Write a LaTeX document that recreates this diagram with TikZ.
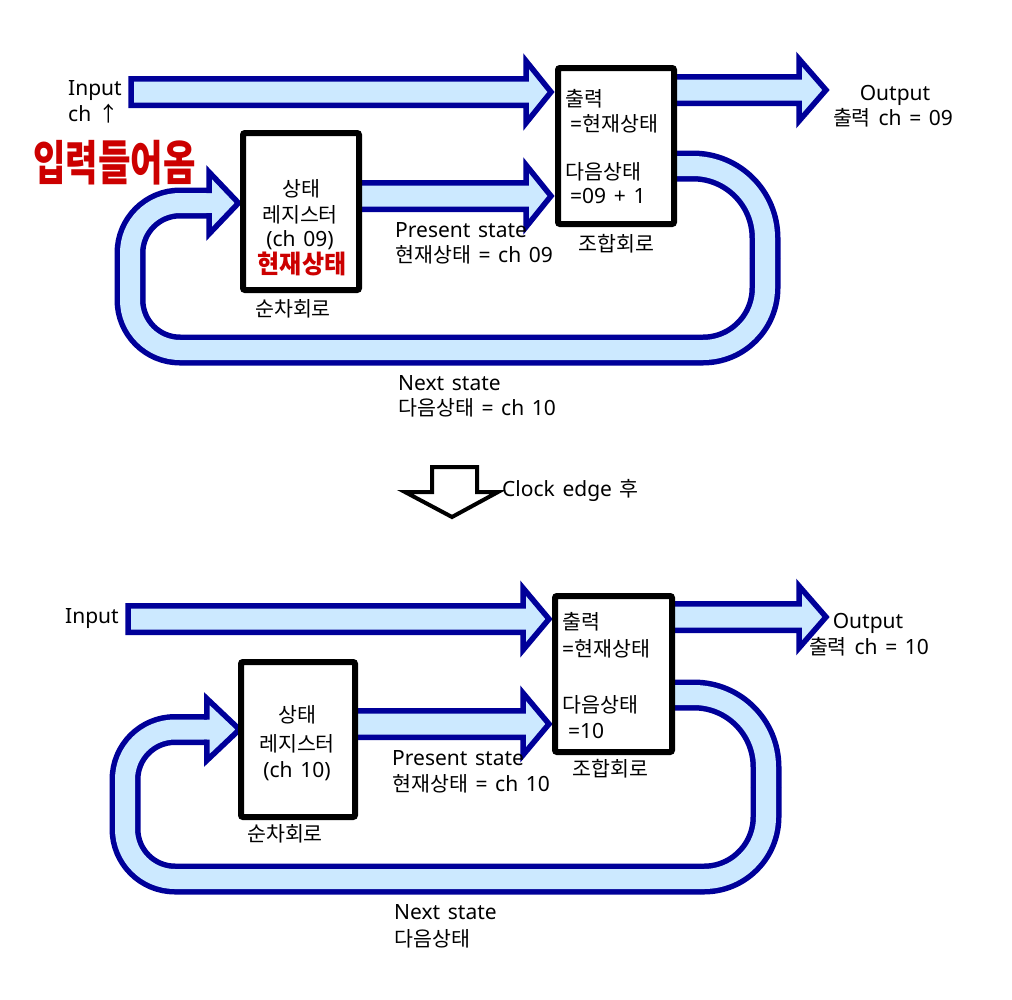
\documentclass[tikz,border=0pt]{standalone}
\usepackage{graphicx}
\usepackage{fontspec}
\setmainfont{Noto Sans}[WordSpace=1.4]
\newfontfamily\kr{Noto Sans CJK KR}[Scale=0.98]
\newcommand\K[1]{{\kr #1}}
\definecolor{navy}{RGB}{0,0,153}
\definecolor{lblue}{RGB}{204,233,255}
\definecolor{redtxt}{RGB}{204,0,0}
\tikzset{
  barrow/.style={draw=navy, fill=lblue, line width=5.5pt, line join=miter},
  box/.style={draw=black, fill=white, line width=6pt, rounded corners=2pt, inner sep=0pt},
  txt/.style={inner sep=0pt, font=\fontsize{21}{25}\selectfont},
  lt/.style={txt, anchor=base west},
  ct/.style={txt, anchor=base},
  redbig/.style={inner sep=0pt, anchor=base west, text=redtxt, font=\kr\bfseries\fontsize{36}{38}\selectfont},
  redsmall/.style={inner sep=0pt, anchor=base, text=redtxt, font=\kr\bfseries\fontsize{24.5}{26}\selectfont},
  clockarrow/.style={draw=black, fill=white, line width=4pt, line join=miter}
}
% block arrow: start x, head base x, tip x, centre y
\newcommand\blockarr[4]{%
  \draw[barrow] (#1,#4-13.25) -- (#2,#4-13.25) -- (#2,#4-31) -- (#3,#4)
    -- (#2,#4+31) -- (#2,#4+13.25) -- (#1,#4+13.25) -- cycle;}
% feedback loop: xs, ytop, xright, ybottom, xleft, yhead, head base x, tip x
\newcommand\fbloop[8]{%
  \foreach \c/\w in {navy/31, lblue/20}{%
    \draw[color=\c, line width=\w pt, rounded corners=72pt] (#1,#2) -- (#3,#2) -- (#3,{(#2+#4)/2});
    \draw[color=\c, line width=\w pt, rounded corners=62pt] (#3,{(#2+#4)/2}) -- (#3,#4) -- (700,#4);
    \draw[color=\c, line width=\w pt, rounded corners=50pt] (700,#4) -- (#5,#4) -- (#5,#6) -- (#7,#6);
  }
  \fill[lblue] (#7,#6-31) -- (#8,#6) -- (#7,#6+31) -- cycle;
  \draw[navy, line width=5.5pt, line join=miter] (#7,#6-10) -- (#7,#6-31) -- (#8,#6) -- (#7,#6+31) -- (#7,#6+10);
}
\begin{document}
\begin{tikzpicture}[x=1pt, y=-1pt]
\useasboundingbox (0,0) rectangle (1012,999);
\fill[white] (0,0) rectangle (1012,999);

% ---------------- top diagram ----------------
\blockarr{131}{526}{551}{92}
\blockarr{359}{526}{551}{196}
\blockarr{674}{799}{826}{90}
\fbloop{674}{166}{765}{350}{130}{203}{209}{238.5}

\node[box, minimum width=116pt, minimum height=156pt] (comb1) at (616,146) {};
\node[box, minimum width=116pt, minimum height=157pt] (reg1) at (301,211.5) {};

\node[lt] (in1) at (68,95) {Input};
\node[lt] (in1b) at (68,121) {ch \K{↑}};
\node[redbig] (note1) at (33,180) {\scalebox{1}[1.35]{입력들어옴}};
\node[lt] (c1a) at (565,106) {\K{출력}};
\node[lt] (c1b) at (570,131) {=\K{현재상태}};
\node[lt] (c1c) at (565,179) {\K{다음상태}};
\node[lt] (c1d) at (570,203) {=09 + 1};
\node[lt] (c1lab) at (578,251) {\K{조합회로}};
\node[ct] (out1a) at (895,100) {Output};
\node[ct] (out1b) at (893,125) {\K{출력} ch = 09};
\node[ct] (s1a) at (301,196) {\K{상태}};
\node[ct] (s1b) at (300,222) {\K{레지스터}};
\node[ct] (s1c) at (300,246) {(ch 09)};
\node[redsmall] (s1d) at (302,273) {\scalebox{1}[1.06]{현재상태}};
\node[ct] (s1lab) at (293,316) {\K{순차회로}};
\node[lt] (ps1a) at (395,237) {Present state};
\node[lt] (ps1b) at (395,262) {\K{현재상태} = ch 09};
\node[lt] (ns1a) at (398,390) {Next state};
\node[lt] (ns1b) at (398,415) {\K{다음상태} = ch 10};

% ---------------- clock edge arrow ----------------
\draw[clockarrow] (432,467) -- (477,467) -- (477,492) -- (498,492) -- (452,517)
  -- (405,492) -- (432,492) -- cycle;
\node[lt] (clk) at (502,496) {Clock edge \K{후}};

% ---------------- bottom diagram ----------------
\blockarr{128}{523}{549}{619}
\blockarr{355}{523}{549}{724}
\blockarr{672}{799}{826}{617}
\fbloop{672}{695}{766}{879}{125}{729.5}{206.75}{239.5}

\node[box, minimum width=117pt, minimum height=156pt] (comb2) at (613.5,674) {};
\node[box, minimum width=114pt, minimum height=155pt] (reg2) at (298,739.5) {};

\node[lt] (in2) at (65,623) {Input};
\node[lt] (c2a) at (562,629) {\K{출력}};
\node[lt] (c2b) at (562,656) {=\K{현재상태}};
\node[lt] (c2c) at (562,712) {\K{다음상태}};
\node[lt] (c2d) at (568,738) {=10};
\node[lt] (c2lab) at (572,776) {\K{조합회로}};
\node[ct] (out2a) at (868,628) {Output};
\node[ct] (out2b) at (869,654) {\K{출력} ch = 10};
\node[ct] (s2a) at (297,722) {\K{상태}};
\node[ct] (s2b) at (297,751) {\K{레지스터}};
\node[ct] (s2c) at (297,777) {(ch 10)};
\node[ct] (s2lab) at (285,841) {\K{순차회로}};
\node[lt] (ps2a) at (392,765) {Present state};
\node[lt] (ps2b) at (392,791) {\K{현재상태} = ch 10};
\node[lt] (ns2a) at (394,919) {Next state};
\node[lt] (ns2b) at (394,946) {\K{다음상태}};
\end{tikzpicture}
\end{document}
